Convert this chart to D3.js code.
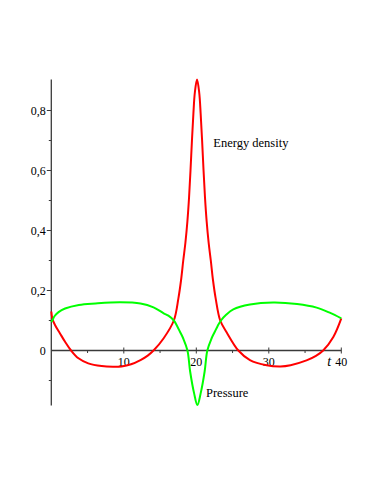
<!DOCTYPE html>
<html>
<head>
<meta charset="utf-8">
<script src="https://cdn.jsdelivr.net/npm/d3@7"></script>
<style>
html,body{margin:0;padding:0;background:#fff;}
svg{display:block;}
text{font-family:"Liberation Serif","DejaVu Serif",serif;fill:#000;}
</style>
</head>
<body>
<svg id="chart" width="374" height="484"></svg>
<script>
// Data
const xTickValues = [10, 20, 30, 40];
const xMinorTicks = [5, 15, 25, 35];
const yTickValues = [0, 0.2, 0.4, 0.6, 0.8];
const yTickLabels = ["0", "0,2", "0,4", "0,6", "0,8"];
const yMinorTicks = [-0.1, 0.1, 0.3, 0.5, 0.7];
const seriesNames = ["Energy density", "Pressure"];

const energyT = [0, 0.15, 0.51, 1.2, 1.9, 2.73, 3.75, 5.1, 6.95, 8.5, 9.7, 11, 12.3, 13.3, 14.1, 15.5, 16.9, 17.53, 17.9, 18.2, 18.5, 18.77, 19.0, 19.2, 19.4, 19.6, 19.8, 20.1, 20.4, 20.6, 20.8, 21.0, 21.2, 21.43, 21.7, 22.0, 22.3, 22.67, 23.3, 24.2, 25.8, 27.4, 29.7, 31.6, 33, 35.2, 36.5, 37.5, 38.9, 40];
const energyV = [0.13, 0.106, 0.085, 0.057, 0.029, 0, -0.026, -0.043, -0.052, -0.054, -0.053, -0.046, -0.032, -0.017, 0, 0.041, 0.10, 0.174, 0.235, 0.30, 0.36, 0.43, 0.51, 0.60, 0.70, 0.79, 0.86, 0.903, 0.86, 0.79, 0.70, 0.60, 0.51, 0.43, 0.36, 0.30, 0.235, 0.174, 0.10, 0.06, 0, -0.032, -0.049, -0.053, -0.049, -0.033, -0.018, 0, 0.045, 0.107];

const pressureT = [0, 0.15, 0.46, 1, 1.9, 3.8, 6.1, 9.5, 12.3, 14.1, 15.5, 16.15, 16.9, 17.35, 17.8, 18.2, 18.78, 19.15, 19.7, 20.15, 20.6, 21.15, 21.52, 22.1, 22.5, 22.95, 23.4, 24.15, 25.1, 27.4, 30.6, 33.9, 36.6, 38.4, 40];
const pressureV = [0.095, 0.101, 0.115, 0.128, 0.14, 0.152, 0.157, 0.161, 0.157, 0.144, 0.124, 0.116, 0.1, 0.082, 0.06, 0.04, 0, -0.07, -0.143, -0.182, -0.143, -0.07, 0, 0.04, 0.06, 0.082, 0.1, 0.12, 0.137, 0.153, 0.16, 0.155, 0.143, 0.126, 0.107];

const svg = d3.select("#chart");
const x = d3.scaleLinear().domain([0, 40]).range([51.3, 341.3]);
const y = d3.scaleLinear().domain([0, 0.2]).range([350.5, 290.5]);
const yMin = -0.183, yMax = 0.903;

// axes
const axisColor = "#3a3a3a";
svg.append("line").attr("x1", x(0)).attr("x2", x(40)).attr("y1", y(0)).attr("y2", y(0))
  .attr("stroke", axisColor).attr("stroke-width", 1.3);
svg.append("line").attr("x1", x(0)).attr("x2", x(0)).attr("y1", y(yMin)).attr("y2", y(yMax))
  .attr("stroke", axisColor).attr("stroke-width", 1.3);

// x ticks
svg.selectAll(".xt").data(xTickValues).enter().append("line")
  .attr("x1", d => x(d)).attr("x2", d => x(d)).attr("y1", y(0) - 3).attr("y2", y(0) + 3)
  .attr("stroke", axisColor).attr("stroke-width", 1);
svg.selectAll(".xm").data(xMinorTicks).enter().append("line")
  .attr("x1", d => x(d)).attr("x2", d => x(d)).attr("y1", y(0)).attr("y2", y(0) + 2.5)
  .attr("stroke", axisColor).attr("stroke-width", 1);
svg.selectAll(".xl").data(xTickValues).enter().append("text")
  .attr("x", d => x(d)).attr("y", y(0) + 15.5).attr("text-anchor", "middle")
  .attr("font-size", 12).text(d => d);
svg.append("text").attr("x", x(40) - 12).attr("y", y(0) + 15).attr("text-anchor", "middle")
  .attr("font-size", 14).attr("font-style", "italic").text("t");

// y ticks
svg.selectAll(".yt").data(yTickValues.filter(d => d !== 0)).enter().append("line")
  .attr("x1", x(0) - 4.5).attr("x2", x(0)).attr("y1", d => y(d)).attr("y2", d => y(d))
  .attr("stroke", axisColor).attr("stroke-width", 1);
svg.selectAll(".ym").data(yMinorTicks).enter().append("line")
  .attr("x1", x(0) - 2.5).attr("x2", x(0)).attr("y1", d => y(d)).attr("y2", d => y(d))
  .attr("stroke", axisColor).attr("stroke-width", 1);
svg.selectAll(".yl").data(yTickValues).enter().append("text")
  .attr("x", x(0) - 5.5).attr("y", d => y(d) + 4).attr("text-anchor", "end")
  .attr("font-size", 12).text((d, i) => yTickLabels[i]);

// curves
const line = d3.line().x(d => x(d[0])).y(d => y(d[1])).curve(d3.curveCatmullRom.alpha(0.5));
const energy = energyT.map((t, i) => [t, energyV[i]]);
const pressure = pressureT.map((t, i) => [t, pressureV[i]]);
svg.append("path").datum(energy).attr("d", line).attr("fill", "none")
  .attr("stroke", "#ff0000").attr("stroke-width", 2).attr("stroke-linejoin", "round");
svg.append("path").datum(pressure).attr("d", line).attr("fill", "none")
  .attr("stroke", "#00ff00").attr("stroke-width", 2).attr("stroke-linejoin", "round");

// labels
svg.append("text").attr("x", 213.3).attr("y", 146.7).attr("font-size", 12.5).text(seriesNames[0]);
svg.append("text").attr("x", 206).attr("y", 396.7).attr("font-size", 12.5).text(seriesNames[1]);
</script>
</body>
</html>
